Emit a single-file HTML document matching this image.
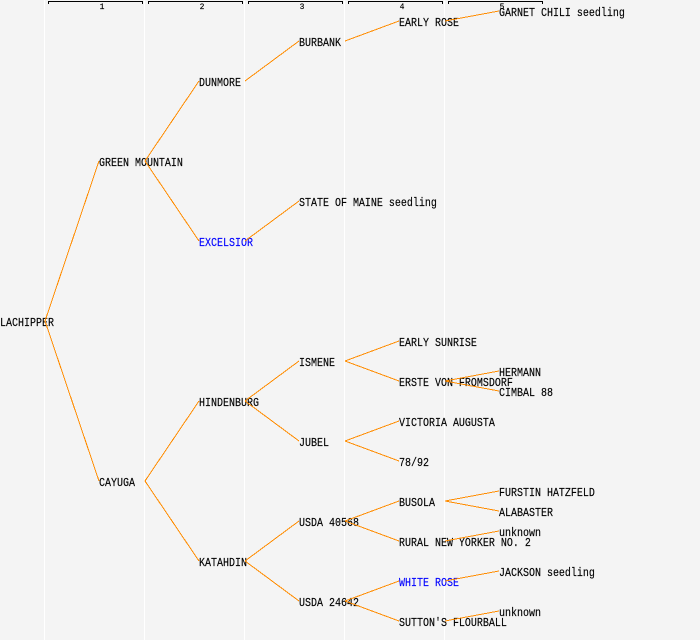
<!DOCTYPE html>
<html>
<head>
<meta charset="utf-8">
<style>
html,body{margin:0;padding:0;background:#f4f4f4;width:700px;height:640px;overflow:hidden}
svg{display:block}
text{font-family:"Liberation Mono",monospace;font-size:12px;fill:#000;stroke:#000;stroke-width:.15}
.h{font-size:8px;text-anchor:middle}
.b{fill:#0000ff;stroke:#0000ff}
.w line{stroke:#fff;stroke-width:1}
.br path{stroke:#000;stroke-width:1;fill:none}
.e line{stroke:#ff8c00;stroke-width:1}
</style>
</head>
<body>
<svg width="700" height="640" viewBox="0 0 700 640" xmlns="http://www.w3.org/2000/svg">
<rect width="700" height="640" fill="#f4f4f4"/>
<g class="w" shape-rendering="crispEdges">
<line x1="44.5" y1="0" x2="44.5" y2="640"/>
<line x1="144.5" y1="0" x2="144.5" y2="640"/>
<line x1="244.5" y1="0" x2="244.5" y2="640"/>
<line x1="344.5" y1="0" x2="344.5" y2="640"/>
<line x1="444.5" y1="0" x2="444.5" y2="640"/>
</g>
<g class="br" shape-rendering="crispEdges">
<path d="M48.5 4V1.5H142.5V4"/>
<path d="M148.5 4V1.5H242.5V4"/>
<path d="M248.5 4V1.5H342.5V4"/>
<path d="M348.5 4V1.5H442.5V4"/>
<path d="M448.5 4V1.5H542.5V4"/>
</g>
<text class="h" x="102" y="9">1</text>
<text class="h" x="202" y="9">2</text>
<text class="h" x="302" y="9">3</text>
<text class="h" x="402" y="9">4</text>
<text class="h" x="502" y="9">5</text>

<text transform="translate(0 326) scale(.8333 1)">LACHIPPER</text>
<text transform="translate(99 166) scale(.8333 1)">GREEN MOUNTAIN</text>
<text transform="translate(99 486) scale(.8333 1)">CAYUGA</text>
<text transform="translate(199 86) scale(.8333 1)">DUNMORE</text>
<text class="b" transform="translate(199 246) scale(.8333 1)">EXCELSIOR</text>
<text transform="translate(199 406) scale(.8333 1)">HINDENBURG</text>
<text transform="translate(199 566) scale(.8333 1)">KATAHDIN</text>
<text transform="translate(299 46) scale(.8333 1)">BURBANK</text>
<text transform="translate(299 206) scale(.8333 1)">STATE OF MAINE seedling</text>
<text transform="translate(299 366) scale(.8333 1)">ISMENE</text>
<text transform="translate(299 446) scale(.8333 1)">JUBEL</text>
<text transform="translate(299 526) scale(.8333 1)">USDA 40568</text>
<text transform="translate(299 606) scale(.8333 1)">USDA 24642</text>
<text transform="translate(399 26) scale(.8333 1)">EARLY ROSE</text>
<text transform="translate(399 346) scale(.8333 1)">EARLY SUNRISE</text>
<text transform="translate(399 386) scale(.8333 1)">ERSTE VON FROMSDORF</text>
<text transform="translate(399 426) scale(.8333 1)">VICTORIA AUGUSTA</text>
<text transform="translate(399 466) scale(.8333 1)">78/92</text>
<text transform="translate(399 506) scale(.8333 1)">BUSOLA</text>
<text transform="translate(399 546) scale(.8333 1)">RURAL NEW YORKER NO. 2</text>
<text class="b" transform="translate(399 586) scale(.8333 1)">WHITE ROSE</text>
<text transform="translate(399 626) scale(.8333 1)">SUTTON'S FLOURBALL</text>
<text transform="translate(499 16) scale(.8333 1)">GARNET CHILI seedling</text>
<text transform="translate(499 376) scale(.8333 1)">HERMANN</text>
<text transform="translate(499 396) scale(.8333 1)">CIMBAL 88</text>
<text transform="translate(499 496) scale(.8333 1)">FURSTIN HATZFELD</text>
<text transform="translate(499 516) scale(.8333 1)">ALABASTER</text>
<text transform="translate(499 536) scale(.8333 1)">unknown</text>
<text transform="translate(499 576) scale(.8333 1)">JACKSON seedling</text>
<text transform="translate(499 616) scale(.8333 1)">unknown</text>

<g class="e" shape-rendering="crispEdges">
<line x1="45" y1="321" x2="99" y2="161"/>
<line x1="45" y1="321" x2="99" y2="481"/>
<line x1="145" y1="161" x2="199" y2="81"/>
<line x1="145" y1="161" x2="199" y2="241"/>
<line x1="145" y1="481" x2="199" y2="401"/>
<line x1="145" y1="481" x2="199" y2="561"/>
<line x1="245" y1="81" x2="299" y2="41"/>
<line x1="245" y1="241" x2="299" y2="201"/>
<line x1="245" y1="401" x2="299" y2="361"/>
<line x1="245" y1="401" x2="299" y2="441"/>
<line x1="245" y1="561" x2="299" y2="521"/>
<line x1="245" y1="561" x2="299" y2="601"/>
<line x1="345" y1="41" x2="399" y2="21"/>
<line x1="345" y1="361" x2="399" y2="341"/>
<line x1="345" y1="361" x2="399" y2="381"/>
<line x1="345" y1="441" x2="399" y2="421"/>
<line x1="345" y1="441" x2="399" y2="461"/>
<line x1="345" y1="521" x2="399" y2="501"/>
<line x1="345" y1="521" x2="399" y2="541"/>
<line x1="345" y1="601" x2="399" y2="581"/>
<line x1="345" y1="601" x2="399" y2="621"/>
<line x1="445" y1="21" x2="499" y2="11"/>
<line x1="445" y1="381" x2="499" y2="371"/>
<line x1="445" y1="381" x2="499" y2="391"/>
<line x1="445" y1="501" x2="499" y2="491"/>
<line x1="445" y1="501" x2="499" y2="511"/>
<line x1="445" y1="541" x2="499" y2="531"/>
<line x1="445" y1="581" x2="499" y2="571"/>
<line x1="445" y1="621" x2="499" y2="611"/>
</g>
</svg>
</body>
</html>
